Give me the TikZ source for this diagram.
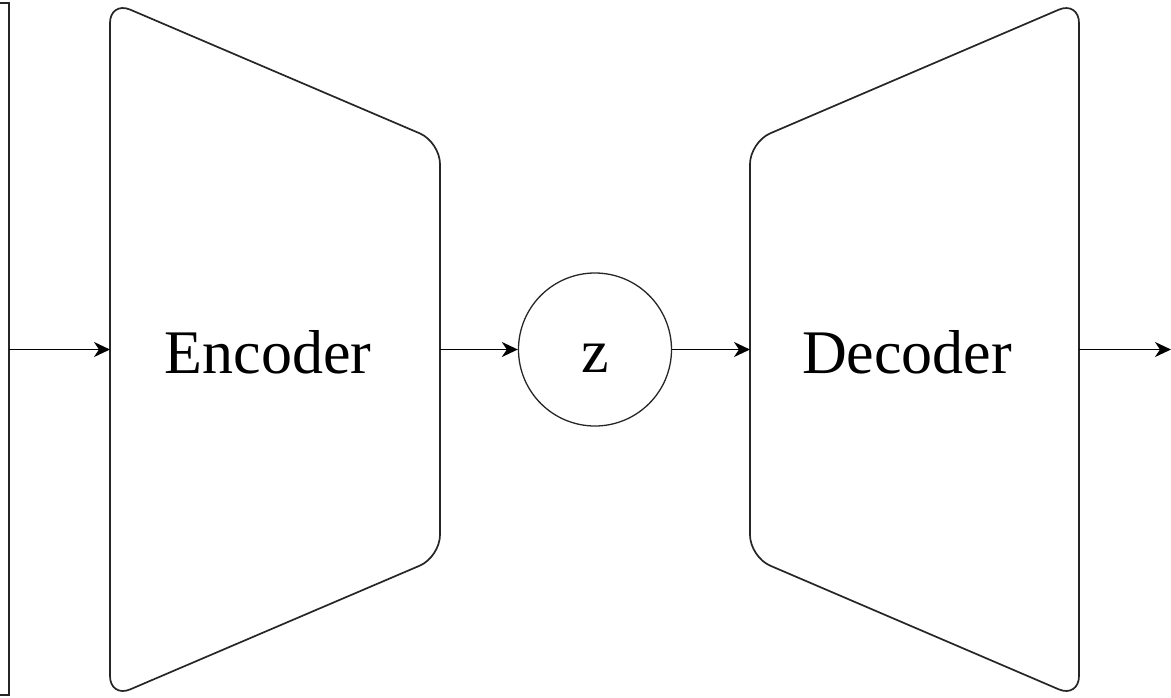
\documentclass[tikz,border=0pt]{standalone}
\usepackage{fontspec}
\setmainfont{Liberation Serif}
\usetikzlibrary{arrows.meta}
\begin{document}
\begin{tikzpicture}[x=1pt,y=-1pt,
  shapeline/.style={draw=black!85, line width=1.7pt, line join=round, rounded corners=22pt},
  arr/.style={draw=black, line width=1.7pt, -{Stealth[length=16pt,width=15pt,inset=5pt]}},
  lbl/.style={font=\fontsize{62}{64}\selectfont, anchor=base, inner sep=0pt},
  circnode/.style={circle, draw=black!85, line width=1.3pt, minimum size=153pt, inner sep=0pt,
    font=\fontsize{62}{64}\selectfont, text height=45pt, text depth=0pt}]
\useasboundingbox (0,0) rectangle (1171,697);
% partially visible input box on the left
\draw[draw=black!85, line width=1.7pt] (-40,3) rectangle (9,695);
\coordinate (inR) at (9,349.5);
% encoder
\draw[shapeline] (110,1) -- (440,142) -- (440,557) -- (110,698) -- cycle;
\coordinate (encL) at (110,349.5);
\coordinate (encR) at (440,349.5);
\node[lbl] (enc) at (268,373) {Encoder};
% latent z
\node[circnode] (z) at (595,349.5) {z};
% decoder
\draw[shapeline] (1079,1) -- (750,142) -- (750,557) -- (1079,698) -- cycle;
\coordinate (decL) at (750,349.5);
\coordinate (decR) at (1079,349.5);
\node[lbl] (dec) at (907,373) {Decoder};
\coordinate (out) at (1171,349.5);
% connectors
\draw[arr] (inR) -- (encL);
\draw[arr] (encR) -- (z.west);
\draw[arr] (z.east) -- (decL);
\draw[arr] (decR) -- (out);
\end{tikzpicture}
\end{document}
